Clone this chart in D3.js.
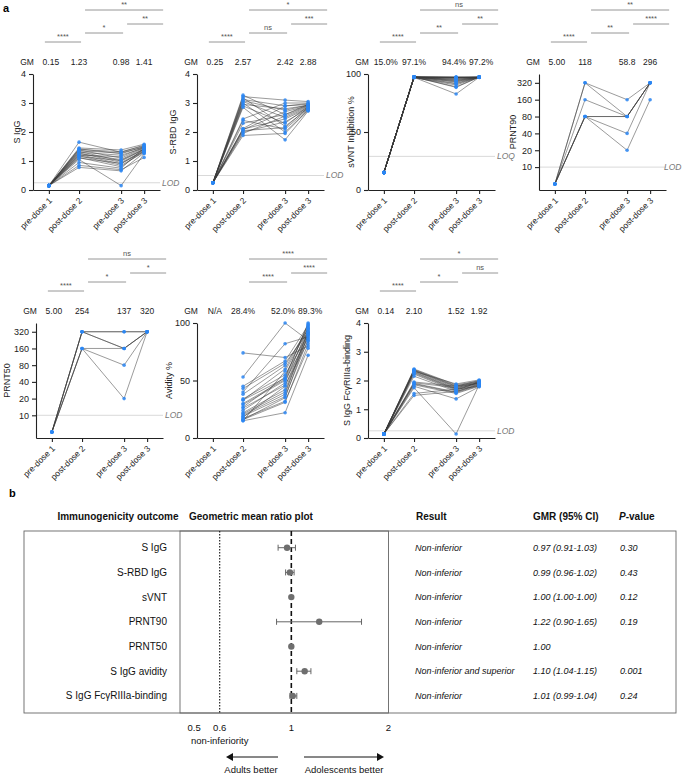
<!DOCTYPE html>
<html lang="en">
<head>
<meta charset="UTF-8">
<script src="https://d3js.org/d3.v7.min.js"></script>
<style>
  body { margin: 0; background: #fff; }
  svg { font-family: "Liberation Sans", Arial, Helvetica, sans-serif; }
  .axis path, .axis line { stroke: #222; stroke-width: 1.1; }
  .axis text { font-size: 9px; fill: #222; }
  .subj { fill: none; stroke: #3a3a3a; stroke-width: 0.6; stroke-opacity: 0.85; }
  .pt { fill: #2b86f2; fill-opacity: 0.85; }
  .lod { stroke: #cfcfcf; stroke-width: 0.8; }
  .lodtxt { font-size: 8.5px; font-style: italic; fill: #777; }
  .sig line { stroke: #8a8a8a; stroke-width: 0.9; }
  .sig text { font-size: 7.5px; fill: #555; text-anchor: middle; }
  .gm { font-size: 8.5px; fill: #222; text-anchor: middle; }
  .ylab { font-size: 9px; fill: #222; text-anchor: middle; }
</style>
</head>
<body>
<svg id="chart" width="682" height="775"></svg>
<script>
// ---- panel a data ----
const timepoints = ['pre-dose 1', 'post-dose 2', 'pre-dose 3', 'post-dose 3']
const timeX = [1, 2.9, 5.55, 7]

// each panel: [pre-dose 1, post-dose 2, pre-dose 3, post-dose 3], one value per subject
const sIgG = [
  [0.15,0.15,0.15,0.15,0.15,0.15,0.15,0.15,0.15,0.15,0.15,0.15,0.15,0.15,0.15,0.15,0.15,0.15,0.15,0.15],
  [1.65,1.45,1.42,1.40,1.38,1.35,1.33,1.30,1.28,1.25,1.22,1.20,1.18,1.15,1.12,1.10,1.05,0.95,0.85,0.78],
  [1.30,1.38,1.25,1.32,1.10,1.28,1.00,1.20,0.95,1.05,0.90,1.15,0.85,1.02,0.80,0.92,0.15,0.75,0.70,0.66],
  [1.55,1.58,1.50,1.52,1.45,1.48,1.40,1.45,1.35,1.42,1.38,1.48,1.30,1.40,1.35,1.32,1.25,1.45,1.12,1.28]
]
const sRBD = [
  [0.25,0.25,0.25,0.25,0.25,0.25,0.25,0.25,0.25,0.25,0.25,0.25,0.25,0.25,0.25,0.25,0.25,0.25,0.25,0.25],
  [3.27,3.22,3.18,3.12,3.08,3.05,3.00,2.95,2.90,2.85,2.45,2.40,2.30,2.12,2.10,2.08,2.05,2.00,1.95,1.88],
  [2.60,3.10,2.20,2.90,2.75,2.50,2.00,2.80,2.30,1.73,3.00,2.10,2.60,2.90,2.45,2.70,2.15,2.35,2.55,1.95],
  [2.95,3.05,2.80,2.98,2.93,2.85,2.75,2.92,2.88,2.72,3.00,2.78,2.90,2.95,2.82,2.90,2.85,2.80,2.88,2.75]
]
const sVNT = [
  [15,15,15,15,15,15,15,15,15,15,15,15,15,15,15,15,15,15,15,15],
  [97.6,97.5,97.4,97.3,97.2,97.1,97.0,97.5,97.3,97.6,97.2,97.4,97.1,97.0,96.9,97.3,97.5,97.2,97.4,97.1],
  [97.4,97.2,97.0,96.8,96.5,96.0,95.5,95.0,94.5,94.0,93.5,93.0,92.0,91.5,90.5,89.0,97.3,96.9,88.5,82.8],
  [97.3,97.2,97.4,97.2,97.3,97.1,97.2,97.3,97.2,97.4,97.2,97.1,97.3,97.2,97.2,97.3,97.1,97.2,97.3,97.2]
]
const prnt90 = [
  [5,5,5,5,5,5,5],
  [320,320,160,80,80,80,80],
  [160,80,80,80,40,20,80],
  [320,320,320,320,320,160,320]
]
const prnt50 = [
  [5,5,5,5,5,5,5],
  [320,320,320,160,160,160,320],
  [320,160,160,160,80,20,320],
  [320,320,320,320,320,320,320]
]
const avidity = [
  [null,null,null,null,null,null,null,null,null,null,null,null,null,null,null,null,null,null,null,null,null,null,null,null],
  [74,53,45,43,40,38,34,33,33,30,29,27,26,24,22,21,20,19,18,17,16,16,15,15],
  [70,100,67,65,82,63,55,60,52,51,50,53,46,48,42,40,38,36,45,32,35,31,22,58],
  [80,85,98,92,88,95,90,97,100,93,87,99,84,96,91,89,94,86,92,78,90,82,72,95]
]
const fcgr = [
  [0.14,0.14,0.14,0.14,0.14,0.14,0.14,0.14,0.14,0.14,0.14,0.14,0.14,0.14,0.14,0.14,0.14,0.14,0.14,0.14],
  [2.40,2.38,2.36,2.35,2.33,2.32,2.30,2.28,2.25,2.22,2.15,1.95,1.92,1.90,1.88,1.85,1.80,1.75,1.55,1.48],
  [1.85,1.82,1.80,1.78,1.75,1.88,1.72,1.70,1.68,1.65,1.62,1.80,1.75,1.60,1.58,1.55,1.36,0.14,1.70,1.62],
  [1.98,1.95,2.00,1.96,1.93,2.02,1.90,1.92,1.88,1.95,1.85,1.90,1.93,1.85,1.82,1.80,1.78,1.85,1.80,1.88]
]

const gmSIgG = ['0.15', '1.23', '0.98', '1.41']
const gmSRBD = ['0.25', '2.57', '2.42', '2.88']
const gmSVNT = ['15.0%', '97.1%', '94.4%', '97.2%']
const gmPrnt90 = ['5.00', '118', '58.8', '296']
const gmPrnt50 = ['5.00', '254', '137', '320']
const gmAvidity = ['N/A', '28.4%', '52.0%', '89.3%']
const gmFcgr = ['0.14', '2.10', '1.52', '1.92']

// significance comparisons [from, to, label]
const sigSIgG = [[0,1,'****'],[1,2,'*'],[2,3,'**'],[1,3,'**']]
const sigSRBD = [[0,1,'****'],[1,2,'ns'],[2,3,'***'],[1,3,'*']]
const sigSVNT = [[0,1,'****'],[1,2,'**'],[2,3,'**'],[1,3,'ns']]
const sigPrnt90 = [[0,1,'****'],[1,2,'**'],[2,3,'****'],[1,3,'**']]
const sigPrnt50 = [[0,1,'****'],[1,2,'*'],[2,3,'*'],[1,3,'ns']]
const sigAvidity = [[1,2,'****'],[2,3,'****'],[1,3,'****']]
const sigFcgr = [[0,1,'****'],[1,2,'*'],[2,3,'ns'],[1,3,'*']]

const linTicks4 = [0, 1, 2, 3, 4]
const pctTicks = [0, 50, 100]
const titerTicks = [10, 20, 40, 80, 160, 320]

// ---- panel b data ----
const outcomes = ['S IgG', 'S-RBD IgG', 'sVNT', 'PRNT90', 'PRNT50', 'S IgG avidity', 'S IgG FcγRIIIa-binding']
const gmr = [0.97, 0.99, 1.00, 1.22, 1.00, 1.10, 1.01]
const ciLow = [0.91, 0.96, 1.00, 0.90, null, 1.04, 0.99]
const ciHigh = [1.03, 1.02, 1.00, 1.65, null, 1.15, 1.04]
const results = ['Non-inferior', 'Non-inferior', 'Non-inferior', 'Non-inferior', 'Non-inferior', 'Non-inferior and superior', 'Non-inferior']
const gmrText = ['0.97 (0.91-1.03)', '0.99 (0.96-1.02)', '1.00 (1.00-1.00)', '1.22 (0.90-1.65)', '1.00', '1.10 (1.04-1.15)', '1.01 (0.99-1.04)']
const pValues = ['0.30', '0.43', '0.12', '0.19', '', '0.001', '0.24']
const forestTicks = [0.5, 0.6, 1, 2]
const nonInferiority = 0.6

const svg = d3.select('#chart')

// panel layout
const rowTop = [74, 323], rowBot = [190, 438], gmY = [62, 311]
const panels = [
  {data: sIgG, gm: gmSIgG, sig: sigSIgG, title: 'S IgG', max: 4, ticks: linTicks4, lod: 0.25, lodTxt: 'LOD', ax: 33, row: 0, tOff: 13},
  {data: sRBD, gm: gmSRBD, sig: sigSRBD, title: 'S-RBD IgG', max: 4, ticks: linTicks4, lod: 0.5, lodTxt: 'LOD', ax: 197, row: 0, tOff: 21},
  {data: sVNT, gm: gmSVNT, sig: sigSVNT, title: 'sVNT Inhibition %', max: 100, ticks: pctTicks, lod: 29, lodTxt: 'LOQ', ax: 368, row: 0, tOff: 14},
  {data: prnt90, gm: gmPrnt90, sig: sigPrnt90, title: 'PRNT90', log: true, ticks: titerTicks, lod: 10, lodTxt: 'LOD', ax: 539, row: 0, tOff: 23},
  {data: prnt50, gm: gmPrnt50, sig: sigPrnt50, title: 'PRNT50', log: true, ticks: titerTicks, lod: 10, lodTxt: 'LOD', ax: 36, row: 1, tOff: 26},
  {data: avidity, gm: gmAvidity, sig: sigAvidity, title: 'Avidity %', max: 100, ticks: pctTicks, lod: null, ax: 197, row: 1, tOff: 25},
  {data: fcgr, gm: gmFcgr, sig: sigFcgr, title: 'S IgG FcγRIIIa-binding', max: 4, ticks: linTicks4, lod: 0.25, lodTxt: 'LOD', ax: 368, row: 1, tOff: 18}
]

panels.forEach(p => {
  const top = rowTop[p.row], bot = rowBot[p.row]
  const g = svg.append('g')
  const x = d3.scaleLinear().domain([0, 8]).range([p.ax, p.ax + 127])
  const y = p.log
    ? d3.scaleLog().base(2).domain([3.9, 460]).range([bot, top])
    : d3.scaleLinear().domain([0, p.max]).range([bot, top])

  if (p.lod != null) {
    g.append('line').attr('class', 'lod')
      .attr('x1', p.ax).attr('x2', p.ax + 127)
      .attr('y1', y(p.lod)).attr('y2', y(p.lod))
    g.append('text').attr('class', 'lodtxt')
      .attr('x', Math.min(p.ax + 129, 664)).attr('y', y(p.lod)).attr('dy', '0.35em')
      .text(p.lodTxt)
  }

  // subject lines
  const n = p.data[1].length
  const line = d3.line().x(d => x(d[0])).y(d => y(d[1]))
  const subjects = d3.range(n).map(i =>
    p.data.map((arr, t) => [timeX[t], arr[i]]).filter(d => d[1] != null))
  g.selectAll('.subj').data(subjects).enter().append('path')
    .attr('class', 'subj').attr('d', line)
  subjects.forEach(s => {
    g.selectAll(null).data(s).enter().append('circle')
      .attr('class', 'pt').attr('r', 1.8)
      .attr('cx', d => x(d[0])).attr('cy', d => y(d[1]))
  })

  // axes
  const yAxis = d3.axisLeft(y).tickValues(p.ticks).tickSize(4).tickSizeOuter(0).tickFormat(d3.format('d'))
  g.append('g').attr('class', 'axis').attr('transform', `translate(${p.ax},0)`).call(yAxis)
  const xAxis = d3.axisBottom(x).tickValues(timeX).tickSize(4).tickSizeOuter(0).tickFormat((d, i) => timepoints[i])
  const xg = g.append('g').attr('class', 'axis').attr('transform', `translate(0,${bot})`).call(xAxis)
  xg.selectAll('text').attr('x', 0).attr('y', 0).attr('dy', '0.35em')
    .style('font-size', '8.5px')
    .attr('text-anchor', 'end').attr('transform', 'translate(1,9) rotate(-45)')

  g.append('text').attr('class', 'ylab')
    .attr('transform', `translate(${p.ax - p.tOff},${(top + bot) / 2}) rotate(-90)`)
    .text(p.title)

  // GM row
  const gy = gmY[p.row]
  g.append('text').attr('class', 'gm').attr('x', p.ax - 6).attr('y', gy).attr('dy', '0.35em').text('GM')
  const gmText = p.gm.map((v, i) => g.append('text').attr('class', 'gm')
    .attr('x', x(timeX[i]) + (i === 0 ? 2 : 0)).attr('y', gy).attr('dy', '0.35em').text(v))
  // keep neighbouring labels from touching
  for (let i = 1; i < gmText.length; i++) {
    const a = gmText[i - 1], b = gmText[i]
    const gap = (+b.attr('x') - b.node().getComputedTextLength() / 2) - (+a.attr('x') + a.node().getComputedTextLength() / 2)
    if (gap < 3) {
      const d = (3 - gap) / 2
      a.attr('x', +a.attr('x') - d)
      b.attr('x', +b.attr('x') + d)
    }
  }

  // significance bars
  const levels = {'0-1': 20, '1-2': 29, '2-3': 38, '1-3': 52}
  p.sig.forEach(s => {
    const by = gy - levels[s[0] + '-' + s[1]]
    const x1 = x(timeX[s[0]]) + (s[0] === 0 ? -4 : 6)
    const x2 = x(timeX[s[1]]) + (s[1] === 3 ? 19 : 2)
    const sg = g.append('g').attr('class', 'sig')
    sg.append('line').attr('x1', x1).attr('x2', x2).attr('y1', by).attr('y2', by)
    sg.append('text').attr('x', (x1 + x2) / 2).attr('y', by - 3).text(s[2])
  })
})

svg.append('text').attr('x', 3).attr('y', 12).style('font-size', '11px').style('font-weight', 'bold').text('a')
svg.append('text').attr('x', 9).attr('y', 497).style('font-size', '11px').style('font-weight', 'bold').text('b')

// ---- panel b: forest plot ----
const fb = svg.append('g')
const boxTop = 531, boxBot = 713
const fx = d3.scaleLog().base(2).domain([0.452, 2]).range([180, 388.5])
const rowY = d => 547.7 + d * 24.7

const head = fb.append('g').style('font-size', '10px').style('font-weight', 'bold').attr('fill', '#111')
head.append('text').attr('x', 118).attr('y', 520).attr('text-anchor', 'middle').text('Immunogenicity outcome')
head.append('text').attr('x', 189).attr('y', 520).text('Geometric mean ratio plot')
head.append('text').attr('x', 416).attr('y', 520).text('Result')
head.append('text').attr('x', 533).attr('y', 520).text('GMR (95% CI)')
const ph = head.append('text').attr('x', 619).attr('y', 520)
ph.append('tspan').style('font-style', 'italic').text('P')
ph.append('tspan').text('-value')

fb.append('rect').attr('x', 24).attr('y', boxTop).attr('width', 652).attr('height', boxBot - boxTop)
  .attr('fill', 'none').attr('stroke', '#666').attr('stroke-width', 0.9)
fb.append('rect').attr('x', fx.range()[0]).attr('y', boxTop).attr('width', fx.range()[1] - fx.range()[0]).attr('height', boxBot - boxTop)
  .attr('fill', 'none').attr('stroke', '#666').attr('stroke-width', 0.9)

fb.append('line').attr('x1', fx(nonInferiority)).attr('x2', fx(nonInferiority)).attr('y1', boxTop).attr('y2', boxBot)
  .attr('stroke', '#111').attr('stroke-width', 1.1).attr('stroke-dasharray', '1.5,1.5')
fb.append('line').attr('x1', fx(1)).attr('x2', fx(1)).attr('y1', boxTop).attr('y2', boxBot)
  .attr('stroke', '#111').attr('stroke-width', 1.6).attr('stroke-dasharray', '5,3')

outcomes.forEach((o, i) => {
  const yy = rowY(i)
  fb.append('text').attr('x', 167).attr('y', yy).attr('dy', '0.35em').attr('text-anchor', 'end')
    .style('font-size', '10px').attr('fill', '#111').text(o)
  if (ciLow[i] != null && ciHigh[i] > ciLow[i]) {
    fb.append('line').attr('x1', fx(ciLow[i])).attr('x2', fx(ciHigh[i])).attr('y1', yy).attr('y2', yy)
      .attr('stroke', '#666').attr('stroke-width', 1)
    ;[ciLow[i], ciHigh[i]].forEach(c => {
      fb.append('line').attr('x1', fx(c)).attr('x2', fx(c)).attr('y1', yy - 3).attr('y2', yy + 3)
        .attr('stroke', '#666').attr('stroke-width', 1)
    })
  }
  fb.append('circle').attr('cx', fx(gmr[i])).attr('cy', yy).attr('r', 3.2).attr('fill', '#6e6e6e')
  const it = fb.append('g').style('font-size', '9px').style('font-style', 'italic').attr('fill', '#111')
  it.append('text').attr('x', 415).attr('y', yy).attr('dy', '0.35em').text(results[i])
  it.append('text').attr('x', 533).attr('y', yy).attr('dy', '0.35em').text(gmrText[i])
  it.append('text').attr('x', 620).attr('y', yy).attr('dy', '0.35em').text(pValues[i])
})

forestTicks.forEach(t => {
  fb.append('text').attr('x', fx(t)).attr('y', 731).attr('text-anchor', 'middle')
    .style('font-size', '9.5px').attr('fill', '#111').text(t)
})
fb.append('text').attr('x', fx(nonInferiority)).attr('y', 744).attr('text-anchor', 'middle')
  .style('font-size', '9.5px').attr('fill', '#111').text('non-inferiority')

// direction arrows
const ay = 757
fb.append('line').attr('x1', 278).attr('x2', 232).attr('y1', ay).attr('y2', ay).attr('stroke', '#111').attr('stroke-width', 1)
fb.append('path').attr('d', `M226,${ay} L233,${ay - 4} L233,${ay + 4} Z`).attr('fill', '#111')
fb.append('line').attr('x1', 304).attr('x2', 378).attr('y1', ay).attr('y2', ay).attr('stroke', '#111').attr('stroke-width', 1)
fb.append('path').attr('d', `M384,${ay} L377,${ay - 4} L377,${ay + 4} Z`).attr('fill', '#111')
fb.append('text').attr('x', 251).attr('y', 773).attr('text-anchor', 'middle').style('font-size', '9.5px').attr('fill', '#111').text('Adults better')
fb.append('text').attr('x', 344).attr('y', 773).attr('text-anchor', 'middle').style('font-size', '9.5px').attr('fill', '#111').text('Adolescents better')
</script>
</body>
</html>
